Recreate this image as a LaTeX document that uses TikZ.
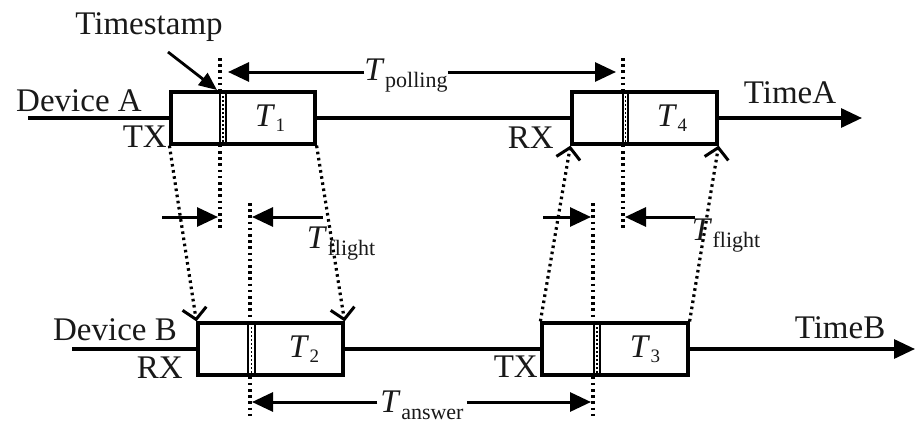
\documentclass[tikz,border=0pt]{standalone}
\usepackage{fontspec}
\setmainfont{Liberation Serif}
\usetikzlibrary{arrows.meta}
\newcommand{\Tlab}[1]{\textit{T}\kern0.5pt\raisebox{-7pt}{\fontsize{22}{23}\selectfont #1}}
\newcommand{\Tnum}[1]{\textit{T}\kern0.5pt\raisebox{-5pt}{\fontsize{19}{20}\selectfont #1}}
\begin{document}
\begin{tikzpicture}[x=1pt,y=-1pt,
  lbl/.style={inner sep=0pt, font=\fontsize{33}{36}\selectfont, text=black!90},
  slot/.style={draw, line width=3.2pt, minimum height=52pt, inner sep=0pt, fill=white},
  axis/.style={line width=3.2pt},
  dots/.style={line width=3.2pt, dash pattern=on 2.6pt off 3.6pt},
  bigtip/.style={-{Triangle[length=21pt,width=19pt]}},
  barb/.style={-{Straight Barb[length=11pt,width=24pt,line width=3pt]}},
  dim/.style={line width=3pt},
]
\useasboundingbox (0,0) rectangle (916,423);

% ---- coordinates
\coordinate (Astart) at (28,118);
\coordinate (Aend) at (862,118);
\coordinate (Bstart) at (72,349);
\coordinate (Bend) at (915,349);

% ---- vertical dotted reference lines (behind boxes)
\coordinate (v1t) at (220,58);  \coordinate (v1b) at (220,228);
\coordinate (v2t) at (623,58);  \coordinate (v2b) at (623,228);
\coordinate (v3t) at (250,203); \coordinate (v3b) at (250,420);
\coordinate (v4t) at (593,203); \coordinate (v4b) at (593,420);
\draw[dots] (v1t) -- (v1b);
\draw[dots] (v2t) -- (v2b);
\draw[dots] (v3t) -- (v3b);
\draw[dots] (v4t) -- (v4b);

% ---- timelines
\draw[axis,bigtip] (Astart) -- (Aend);
\draw[axis,bigtip] (Bstart) -- (Bend);

% ---- boxes
\node[slot, minimum width=144pt] (A1) at (243,118) {};
\node[slot, minimum width=145pt] (A2) at (644.5,118) {};
\node[slot, minimum width=145pt] (B1) at (270.5,349) {};
\node[slot, minimum width=146pt] (B2) at (615,349) {};

% double separators
\draw[line width=2.4pt] (220,92) -- (220,144) (226,92) -- (226,144);
\draw[line width=2.4pt] (623,92) -- (623,144) (628,92) -- (628,144);
\draw[line width=2.4pt] (248,323) -- (248,375) (255,323) -- (255,375);
\draw[line width=2.4pt] (594,323) -- (594,375) (600,323) -- (600,375);
\draw[line width=1.6pt, dash pattern=on 1.6pt off 2.4pt] (223,92) -- (223,144);
\draw[line width=1.6pt, dash pattern=on 1.6pt off 2.4pt] (625.5,92) -- (625.5,144);
\draw[line width=1.6pt, dash pattern=on 1.6pt off 2.4pt] (251.5,323) -- (251.5,375);
\draw[line width=1.6pt, dash pattern=on 1.6pt off 2.4pt] (597,323) -- (597,375);

% box labels
\node[lbl] (t1) at (270,118) {\Tnum{1}};
\node[lbl] (t4) at (672,118) {\Tnum{4}};
\node[lbl] (t2) at (304,349) {\Tnum{2}};
\node[lbl] (t3) at (645,349) {\Tnum{3}};

% ---- slanted signal lines
\draw[dots,barb] (A1.south west) -- (B1.north west);
\draw[dots,barb] (A1.south east) -- (B1.north east);
\draw[dots,barb] (B2.north west) -- (A2.south west);
\draw[dots,barb] (B2.north east) -- (A2.south east);

% ---- text labels
\node[lbl] (ts) at (149,27) {Timestamp};
\coordinate (tsa) at (168,52);
\coordinate (tsb) at (217,90);
\draw[line width=2.8pt,-{Triangle[length=18pt,width=15pt]}] (tsa) -- (tsb);

\node[lbl] (devA) at (79,101) {Device A};
\node[lbl, anchor=east] (txA) at (167,137) {TX};
\node[lbl, anchor=east] (rxA) at (554,138) {RX};
\node[lbl] (timeA) at (790,93) {TimeA};
\node[lbl] (devB) at (115,330) {Device B};
\node[lbl, anchor=east] (rxB) at (183,368) {RX};
\node[lbl, anchor=east] (txB) at (538,367) {TX};
\node[lbl] (timeB) at (840,328) {TimeB};

% ---- T_polling
\node[lbl] (tpoll) at (406,76) {\Tlab{polling}};
\coordinate (pL) at (228,72);
\coordinate (pR) at (616,72);
\draw[dim,bigtip] (tpoll.west |- pL) -- (pL);
\draw[dim,bigtip] (tpoll.east |- pR) -- (pR);

% ---- T_answer
\node[lbl] (tans) at (422,405) {\Tlab{answer}};
\coordinate (aL) at (252,402);
\coordinate (aR) at (591,402);
\draw[dim,bigtip] ([xshift=-3pt]tans.west |- aL) -- (aL);
\draw[dim,bigtip] ([xshift=3pt]tans.east |- aR) -- (aR);

% ---- T_flight (left)
\coordinate (f1a) at (162,217);
\coordinate (f1b) at (218,217);
\coordinate (f2a) at (323,217);
\coordinate (f2b) at (252,217);
\draw[dim,bigtip] (f1a) -- (f1b);
\draw[dim,bigtip] (f2a) -- (f2b);
\node[lbl] (fl1) at (341,244) {\Tlab{flight}};

% ---- T_flight (right)
\coordinate (f3a) at (543,217);
\coordinate (f3b) at (591,217);
\coordinate (f4a) at (695,217);
\coordinate (f4b) at (625,217);
\draw[dim,bigtip] (f3a) -- (f3b);
\draw[dim,bigtip] (f4a) -- (f4b);
\node[lbl] (fl2) at (726,236) {\Tlab{flight}};
\end{tikzpicture}
\end{document}
